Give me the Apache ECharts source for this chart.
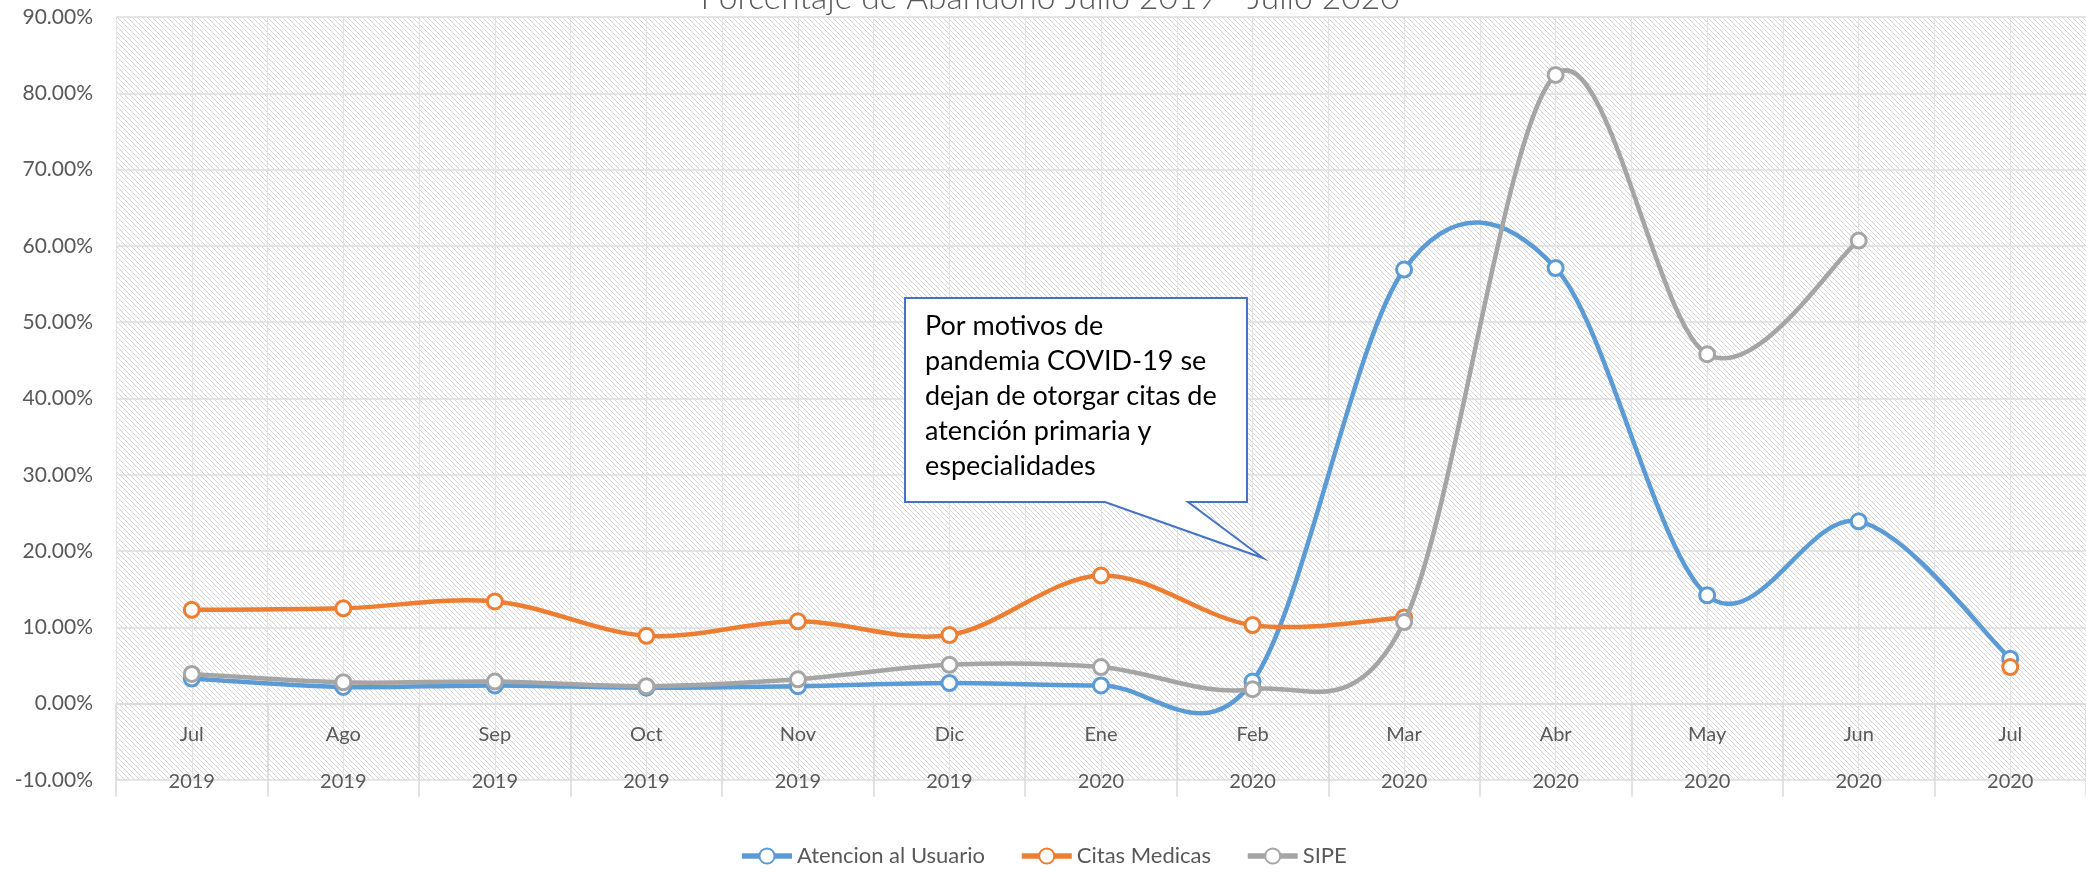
<!DOCTYPE html>
<html>
<head>
<meta charset="utf-8">
<script src="https://cdn.jsdelivr.net/npm/echarts@6/dist/echarts.min.js"></script>
<style>
  html, body { margin: 0; padding: 0; background: #ffffff; }
  #chart { width: 2086px; height: 872px; }
</style>
</head>
<body>
<div id="chart"></div>
<script>
// ---- Data ----
const months = ['Jul', 'Ago', 'Sep', 'Oct', 'Nov', 'Dic', 'Ene', 'Feb', 'Mar', 'Abr', 'May', 'Jun', 'Jul'];
const years  = ['2019', '2019', '2019', '2019', '2019', '2019', '2020', '2020', '2020', '2020', '2020', '2020', '2020'];
const atencionUsuario = [3.3, 2.2, 2.4, 2.1, 2.3, 2.7, 2.4, 2.9, 56.9, 57.1, 14.2, 23.9, 5.9];
const citasMedicas    = [12.3, 12.5, 13.4, 8.9, 10.8, 9.0, 16.8, 10.3, 11.3, null, null, null, 4.8];
const sipe            = [3.9, 2.8, 2.9, 2.3, 3.2, 5.1, 4.8, 1.9, 10.7, 82.4, 45.8, 60.7, null];
const seriesNames = ['Atencion al Usuario', 'Citas Medicas', 'SIPE'];
const titleText = 'Porcentaje de Abandono Julio 2019 - Julio 2020';
const calloutText = 'Por motivos de\npandemia COVID-19 se\ndejan de otorgar citas de\natención primaria y\nespecialidades';

const categories = months.map((m, i) => m + '\n' + years[i]);

// hatch pattern for plot area
const tile = document.createElement('canvas');
tile.width = 5; tile.height = 5;
const tc = tile.getContext('2d');
tc.fillStyle = '#ffffff';
tc.fillRect(0, 0, 5, 5);
tc.strokeStyle = '#d6d6d6';
tc.lineWidth = 1;
tc.beginPath();
tc.moveTo(-1, -1); tc.lineTo(6, 6);
tc.moveTo(-1, 4); tc.lineTo(1, 6);
tc.moveTo(4, -1); tc.lineTo(6, 1);
tc.stroke();

const FONT = 'Lato, "Open Sans", sans-serif';
const colors = ['#5B9BD5', '#ED7D31', '#A5A5A5'];
const LINE_W = 4.5;

// markers (line series, its own line hidden; curve drawn by custom series below)
function markerSeries(name, data, color, z) {
  return {
    name: name,
    type: 'line',
    data: data,
    connectNulls: false,
    symbol: 'circle',
    symbolSize: 15,
    showSymbol: true,
    showAllSymbol: true,
    z: z,
    lineStyle: { color: color, width: LINE_W, opacity: 0 },
    itemStyle: { color: '#ffffff', borderColor: color, borderWidth: 3 },
    emphasis: { disabled: true }
  };
}

// Excel-like smoothed curve (cardinal spline) through the data, positioned via api.coord
function curveSeries(name, values, color, z) {
  return {
    name: name,
    type: 'custom',
    data: values.map((v, i) => [i, v]),
    encode: { x: 0, y: 1 },
    z: z,
    silent: true,
    renderItem: function (params, api) {
      const i = params.dataIndex;
      const pt = k => (k >= 0 && k < values.length && values[k] != null) ? api.coord([k, values[k]]) : null;
      const p1 = pt(i), p2 = pt(i + 1);
      if (!p1 || !p2) return null;
      const p0 = pt(i - 1) || p1;
      const p3 = pt(i + 2) || p2;
      return {
        type: 'bezierCurve',
        shape: {
          x1: p1[0], y1: p1[1], x2: p2[0], y2: p2[1],
          cpx1: p1[0] + (p2[0] - p0[0]) / 6, cpy1: p1[1] + (p2[1] - p0[1]) / 6,
          cpx2: p2[0] - (p3[0] - p1[0]) / 6, cpy2: p2[1] - (p3[1] - p1[1]) / 6
        },
        style: { stroke: color, lineWidth: LINE_W, fill: null, lineCap: 'round' }
      };
    }
  };
}

const chart = echarts.init(document.getElementById('chart'), null, { renderer: 'canvas' });
chart.setOption({
  animation: false,
  backgroundColor: '#ffffff',
  title: {
    text: titleText,
    left: 1045,
    textAlign: 'center',
    top: -24,
    textStyle: { fontFamily: FONT, fontSize: 33.5, fontWeight: 300, color: '#595959' }
  },
  grid: {
    left: 116, right: 0, top: 17, bottom: 92,
    show: true,
    borderWidth: 0,
    backgroundColor: { image: tile, repeat: 'repeat' }
  },
  legend: {
    bottom: 0,
    left: 'center',
    itemWidth: 50,
    itemHeight: 19,
    itemGap: 34,
    lineStyle: { opacity: 1, width: 5.5 },
    textStyle: { fontFamily: FONT, fontSize: 22, color: '#595959' },
    data: seriesNames.map(n => ({ name: n, lineStyle: { opacity: 1, width: 5.5 } }))
  },
  xAxis: [
    {
      type: 'category',
      data: categories,
      boundaryGap: true,
      offset: -76.3,
      axisLine: { show: true, onZero: false, lineStyle: { color: '#d9d9d9', width: 1.5 } },
      axisTick: { show: true, length: 93, lineStyle: { color: '#d9d9d9', width: 1.5 } },
      axisLabel: {
        margin: 7,
        interval: 0,
        fontFamily: FONT,
        fontSize: 20,
        lineHeight: 47,
        color: '#595959'
      },
      splitLine: { show: false }
    },
    {
      type: 'value',
      min: 0, max: 13, interval: 0.5,
      position: 'top',
      show: true,
      axisLine: { show: false, onZero: false },
      axisTick: { show: false },
      axisLabel: { show: false },
      splitLine: { show: true, lineStyle: { color: '#e3e3e3', width: 1 } }
    }
  ],
  yAxis: {
    type: 'value',
    min: -10, max: 90, interval: 10,
    axisLine: { show: false },
    axisTick: { show: false },
    axisLabel: {
      margin: 23,
      fontFamily: FONT,
      fontSize: 21,
      color: '#595959',
      formatter: v => v.toFixed(2) + '%'
    },
    splitLine: { show: true, lineStyle: { color: '#dcdcdc', width: 1.5 } }
  },
  series: [
    markerSeries(seriesNames[0], atencionUsuario, colors[0], 4),
    markerSeries(seriesNames[1], citasMedicas, colors[1], 6),
    markerSeries(seriesNames[2], sipe, colors[2], 8),
    curveSeries(seriesNames[0], atencionUsuario, colors[0], 3),
    curveSeries(seriesNames[1], citasMedicas, colors[1], 5),
    curveSeries(seriesNames[2], sipe, colors[2], 7)
  ],
  graphic: [
    {
      type: 'polygon',
      z: 100,
      shape: { points: [[905, 298], [1247, 298], [1247, 502], [1188, 502], [1263, 558], [1105, 502], [905, 502]] },
      style: { fill: '#ffffff', stroke: '#4472C4', lineWidth: 2 }
    },
    {
      type: 'text',
      z: 101,
      left: 925,
      top: 309,
      style: {
        text: calloutText,
        fontFamily: FONT,
        fontSize: 27,
        lineHeight: 35,
        fill: '#000000'
      }
    }
  ]
});
</script>
</body>
</html>
